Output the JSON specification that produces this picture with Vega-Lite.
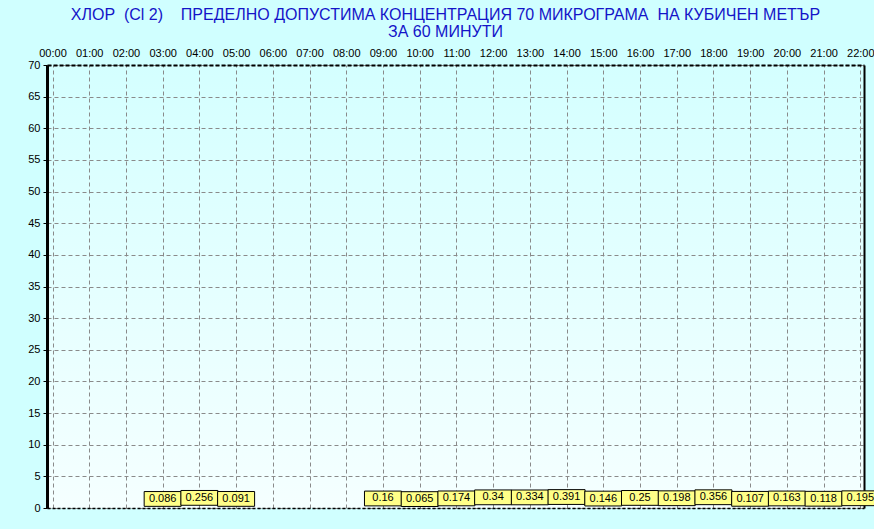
{
  "$schema": "https://vega.github.io/schema/vega-lite/v6.json",
  "width": 817,
  "height": 443,
  "autosize": "none",
  "padding": {"left": 47, "top": 65, "right": 10, "bottom": 21},
  "background": "#d0ffff",
  "title": {
    "text": ["ХЛОР\u00a0 (Cl 2)\u00a0\u00a0\u00a0 ПРЕДЕЛНО ДОПУСТИМА КОНЦЕНТРАЦИЯ 70 МИКРОГРАМА\u00a0 НА КУБИЧЕН МЕТЪР", "ЗА 60 МИНУТИ"],
    "font": "Liberation Sans",
    "fontSize": 16,
    "fontWeight": "normal",
    "color": "#1414c8",
    "anchor": "middle",
    "dx": -10,
    "offset": 7,
    "lineHeight": 17
  },
  "config": {
    "view": {
      "stroke": null,
      "fill": {"gradient": "linear", "x1": 0, "y1": 0, "x2": 0, "y2": 1, "stops": [{"offset": 0, "color": "#d4ffff"}, {"offset": 1, "color": "#f5ffff"}]}
    },
    "axis": {
      "labelFont": "Liberation Sans",
      "labelFontSize": 11,
      "labelColor": "#000000",
      "title": null,
      "gridColor": "#8a8a8a",
      "gridDash": [4, 3],
      "gridWidth": 1,
      "gridOpacity": 1
    }
  },
  "data": {
    "values": [
      {"hour": 3, "value": 0.086},
      {"hour": 4, "value": 0.256},
      {"hour": 5, "value": 0.091},
      {"hour": 9, "value": 0.16},
      {"hour": 10, "value": 0.065},
      {"hour": 11, "value": 0.174},
      {"hour": 12, "value": 0.34},
      {"hour": 13, "value": 0.334},
      {"hour": 14, "value": 0.391},
      {"hour": 15, "value": 0.146},
      {"hour": 16, "value": 0.25},
      {"hour": 17, "value": 0.198},
      {"hour": 18, "value": 0.356},
      {"hour": 19, "value": 0.107},
      {"hour": 20, "value": 0.163},
      {"hour": 21, "value": 0.118},
      {"hour": 22, "value": 0.195}
    ]
  },
  "layer": [
    {
      "mark": {"type": "point", "shape": "M-1,-0.4H1V0.4H-1Z", "size": 1369, "filled": true, "fill": "#ffff88", "stroke": "#000000", "strokeWidth": 1, "opacity": 1, "yOffset": -8.5},
      "encoding": {
        "x": {
          "field": "hour", "type": "quantitative",
          "scale": {"domain": [-0.15, 22.1], "nice": false, "zero": false},
          "axis": {
            "orient": "top",
            "values": [0,1,2,3,4,5,6,7,8,9,10,11,12,13,14,15,16,17,18,19,20,21,22],
            "labelExpr": "(datum.value < 10 ? '0' : '') + datum.value + ':00'",
            "ticks": false,
            "labelPadding": 7,
            "labelFlush": false,
            "labelOverlap": false,
            "domain": true,
            "domainColor": "#000000",
            "domainWidth": 2,
            "domainDash": [4, 2],
            "grid": true
          }
        },
        "y": {
          "field": "value", "type": "quantitative",
          "scale": {"domain": [0, 70], "nice": false},
          "axis": {
            "orient": "left",
            "values": [0,5,10,15,20,25,30,35,40,45,50,55,60,65,70],
            "domain": true,
            "domainColor": "#000000",
            "domainWidth": 3,
            "ticks": true,
            "tickColor": "#000000",
            "tickSize": 4,
            "labelPadding": 3,
            "grid": true
          }
        }
      }
    },
    {
      "mark": {"type": "text", "font": "Liberation Sans", "fontSize": 11, "color": "#000000", "baseline": "middle", "align": "center", "yOffset": -8.5},
      "encoding": {
        "x": {
          "field": "hour", "type": "quantitative",
          "scale": {"domain": [-0.15, 22.1], "nice": false, "zero": false},
          "axis": {"orient": "bottom", "labels": false, "ticks": false, "grid": false, "domain": true, "domainColor": "#000000", "domainWidth": 1.5, "domainDash": [3, 2]}
        },
        "y": {
          "field": "value", "type": "quantitative",
          "scale": {"domain": [0, 70], "nice": false},
          "axis": {"orient": "right", "labels": false, "ticks": false, "grid": false, "domain": true, "domainColor": "#000000", "domainWidth": 2}
        },
        "text": {"field": "value", "type": "nominal"}
      }
    }
  ],
  "resolve": {"axis": {"x": "independent", "y": "independent"}}
}
